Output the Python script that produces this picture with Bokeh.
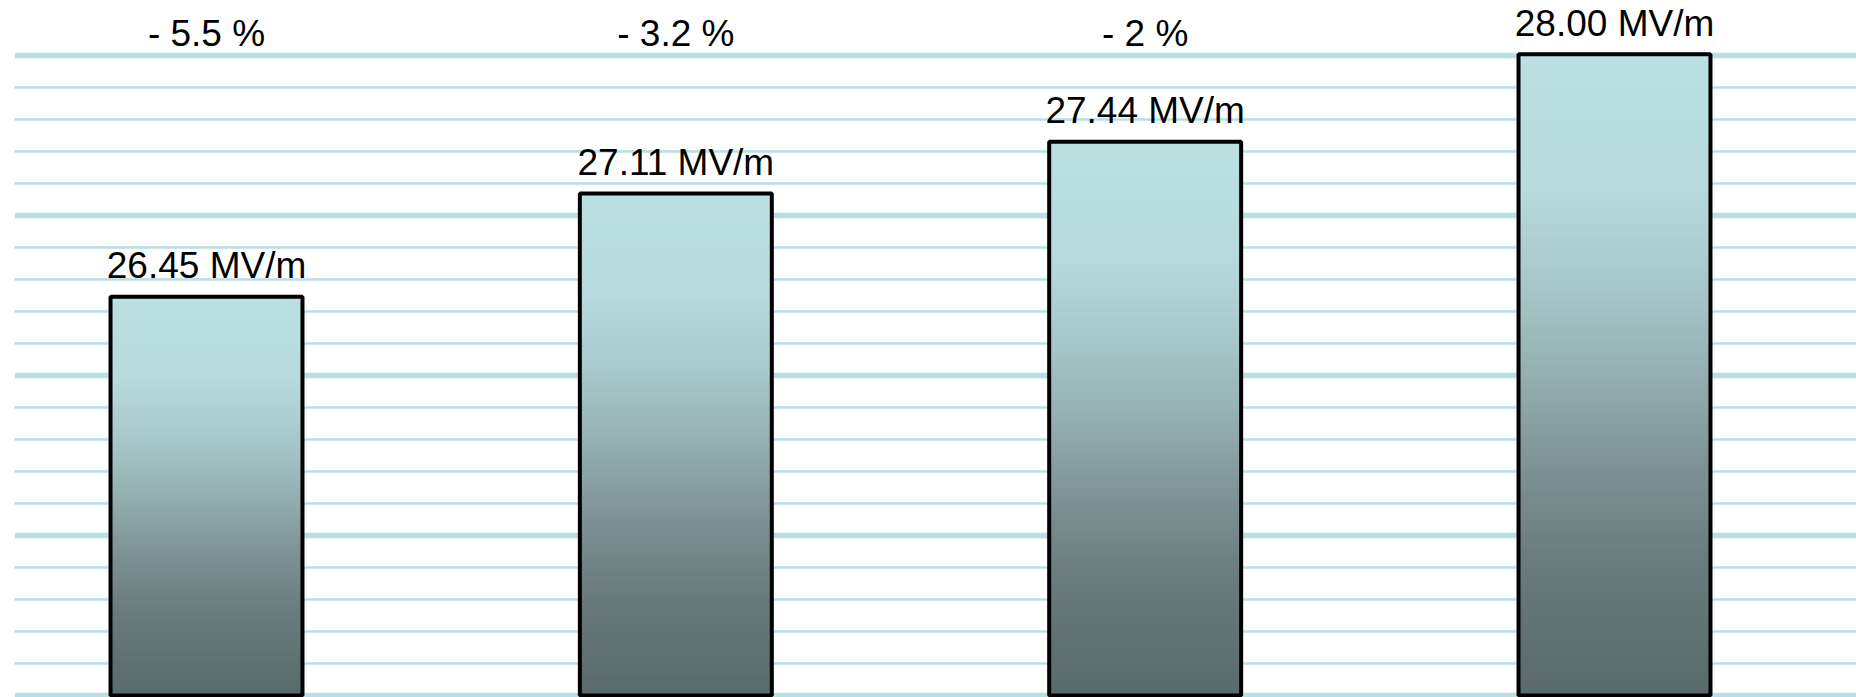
from bokeh.plotting import figure
from bokeh.models import ColumnDataSource, Range1d, Grid, FixedTicker
from bokeh.core.properties import value
from bokeh.embed import file_html
from bokeh.resources import INLINE

# Accelerating gradient per cavity, in MV/m
cavities = ["A", "B", "C", "D"]
gradients = [26.45, 27.11, 27.44, 28.00]
drop_labels = ["- 5.5 %", "- 3.2 %", "- 2 %"]   # loss relative to the best cavity

BASE = 23.9          # value where the bars start
GRID_STEPS = 20      # number of grid intervals between bottom and top line
MAJOR_EVERY = 5

x = list(range(len(cavities)))
bar_width = 0.409

W, H = 1856, 697
LEFT_PAD = 14
PX_PER_UNIT_X = 469.333
PX_PER_MV = 156.4
BASE_PX = 695        # pixel row of the bar base, measured from the top
GRID_PX = 32         # pixel gap between grid lines
LABEL_GAP = 31 / PX_PER_MV    # value labels float this far above the bar
DROP_GAP = 21 / PX_PER_MV     # percentage labels sit just above the best bar's level

x_start = -192 / PX_PER_UNIT_X
x_end = x_start + (W - LEFT_PAD) / PX_PER_UNIT_X
y_start = BASE - (H - BASE_PX) / PX_PER_MV
y_end = BASE + BASE_PX / PX_PER_MV

p = figure(width=W, height=H, output_backend="svg", toolbar_location=None,
           x_range=Range1d(x_start, x_end), y_range=Range1d(y_start, y_end),
           x_axis_location=None, y_axis_location=None,
           min_border_left=LEFT_PAD, min_border_right=0,
           min_border_top=0, min_border_bottom=0)
p.outline_line_color = None
p.background_fill_color = "white"
p.border_fill_color = "white"
p.xgrid.visible = False
p.ygrid.visible = False

# horizontal rules on their own scale: one line per grid step
p.extra_y_ranges = {"grid": Range1d(-(H - BASE_PX) / GRID_PX, BASE_PX / GRID_PX)}
grid_color = "#b8e0e2"
minor_ticks = [k for k in range(GRID_STEPS + 1) if k % MAJOR_EVERY]
major_ticks = [k for k in range(GRID_STEPS + 1) if k % MAJOR_EVERY == 0]
p.add_layout(Grid(dimension=1, ticker=FixedTicker(ticks=minor_ticks), y_range_name="grid",
                  grid_line_color=grid_color, grid_line_width=2.7))
p.add_layout(Grid(dimension=1, ticker=FixedTicker(ticks=major_ticks), y_range_name="grid",
                  grid_line_color=grid_color, grid_line_width=5.7))

# vertical colour ramp of each bar, top (t=0) to base (t=1)
stops = [
    (0.00, (187, 224, 226)),
    (0.20, (183, 219, 221)),
    (0.35, (168, 201, 203)),
    (0.50, (148, 175, 177)),
    (0.65, (124, 145, 147)),
    (0.80, (104, 122, 123)),
    (1.00, (90, 106, 106)),
]


def ramp(t):
    for (t0, c0), (t1, c1) in zip(stops[:-1], stops[1:]):
        if t <= t1:
            f = (t - t0) / (t1 - t0)
            return "#%02x%02x%02x" % tuple(round(a + (b - a) * f) for a, b in zip(c0, c1))
    return "#%02x%02x%02x" % stops[-1][1]


N = 120
fx, ftop, fcol = [], [], []
for xi, g in zip(x, gradients):
    for k in range(N):
        fx.append(xi)
        ftop.append(BASE + (g - BASE) * (1 - k / N))
        fcol.append(ramp((k + 0.5) / N))
p.vbar(x="x", top="top", bottom=BASE, width=bar_width, fill_color="color", line_color=None,
       source=ColumnDataSource(dict(x=fx, top=ftop, color=fcol)))

bars = ColumnDataSource(dict(x=x, top=gradients,
                             label_y=[g + LABEL_GAP for g in gradients],
                             label=["%.2f MV/m" % g for g in gradients]))
p.vbar(x="x", top="top", bottom=BASE, width=bar_width, fill_color=None,
       line_color="black", line_width=4, source=bars)

font = value("Liberation Sans")
p.text(x="x", y="label_y", text="label", source=bars, text_font=font, text_font_size="37px",
       text_color="black", text_align="center", text_baseline="alphabetic")

best = max(gradients)
p.text(x=x[:len(drop_labels)], y=[best + DROP_GAP] * len(drop_labels), text=drop_labels,
       text_font=font, text_font_size="37px", text_color="black",
       text_align="center", text_baseline="alphabetic")

open("out.html", "w").write(file_html(p, INLINE))
